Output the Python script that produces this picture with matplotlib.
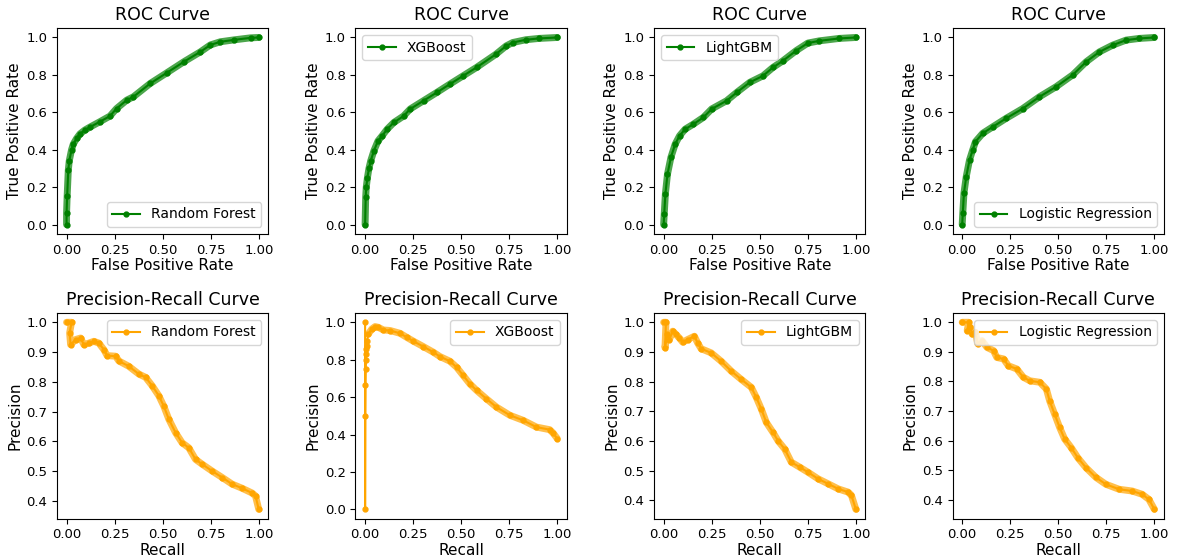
import numpy as np
import matplotlib
matplotlib.use('Agg')
import matplotlib.pyplot as plt

######################################################################
## Data
######################################################################

models = ['Random Forest', 'XGBoost', 'LightGBM', 'Logistic Regression']

# ROC curves: false positive rate / true positive rate
rf_fpr = [0.0, 0.0, 0.003, 0.009, 0.014, 0.026, 0.035, 0.052, 0.07, 0.095, 0.12, 0.174, 0.226, 0.26,
          0.313, 0.348, 0.435, 0.52, 0.61, 0.696, 0.748, 0.8, 0.87, 0.957, 1.0]
rf_tpr = [0.0, 0.06, 0.15, 0.29, 0.34, 0.40, 0.43, 0.46, 0.485, 0.505, 0.52, 0.55, 0.58, 0.62,
          0.665, 0.683, 0.754, 0.81, 0.87, 0.923, 0.96, 0.977, 0.987, 0.998, 1.0]

xgb_fpr = [0.0, 0.003, 0.006, 0.012, 0.02, 0.029, 0.046, 0.067, 0.089, 0.115, 0.15, 0.2, 0.235,
           0.304, 0.373, 0.44, 0.51, 0.58, 0.68, 0.734, 0.768, 0.837, 0.905, 1.0]
xgb_tpr = [0.0, 0.146, 0.2, 0.25, 0.3, 0.34, 0.395, 0.447, 0.475, 0.51, 0.546, 0.58, 0.618,
           0.662, 0.706, 0.75, 0.795, 0.84, 0.91, 0.955, 0.973, 0.988, 0.995, 1.0]

lgb_fpr = [0.0, 0.003, 0.009, 0.02, 0.038, 0.06, 0.083, 0.112, 0.155, 0.207, 0.25, 0.328, 0.38,
           0.448, 0.517, 0.569, 0.62, 0.69, 0.75, 0.81, 0.914, 1.0]
lgb_tpr = [0.0, 0.057, 0.164, 0.27, 0.36, 0.43, 0.475, 0.51, 0.537, 0.573, 0.618, 0.662, 0.706,
           0.76, 0.795, 0.84, 0.875, 0.93, 0.97, 0.982, 0.995, 1.0]

lr_fpr = [0.0, 0.003, 0.009, 0.021, 0.038, 0.055, 0.069, 0.107, 0.16, 0.229, 0.315, 0.402, 0.489,
          0.575, 0.645, 0.714, 0.783, 0.853, 0.922, 1.0]
lr_tpr = [0.0, 0.06, 0.167, 0.256, 0.345, 0.4, 0.443, 0.488, 0.523, 0.568, 0.62, 0.683, 0.737,
          0.8, 0.87, 0.923, 0.959, 0.986, 0.995, 1.0]

# Precision-recall curves: recall / precision
rf_rec = [0.0, 0.026, 0.016, 0.021, 0.047, 0.073, 0.09, 0.116, 0.142, 0.168, 0.194, 0.211, 0.255,
          0.272, 0.324, 0.376, 0.411, 0.445, 0.48, 0.506, 0.532, 0.567, 0.601, 0.636, 0.671, 0.705,
          0.757, 0.81, 0.861, 0.913, 0.965, 0.983, 1.0]
rf_prec = [1.0, 1.0, 0.964, 0.925, 0.942, 0.947, 0.925, 0.93, 0.936, 0.93, 0.908, 0.888, 0.886,
           0.87, 0.852, 0.826, 0.815, 0.787, 0.753, 0.718, 0.674, 0.629, 0.595, 0.578, 0.539, 0.523,
           0.5, 0.478, 0.456, 0.442, 0.426, 0.416, 0.371]

xgb_rec = [0.0, 0.0, 0.001, 0.002, 0.003, 0.004, 0.005, 0.006, 0.008, 0.01, 0.017, 0.035, 0.052,
           0.069, 0.095, 0.13, 0.182, 0.216, 0.251, 0.303, 0.355, 0.389, 0.441, 0.476, 0.51, 0.545,
           0.58, 0.631, 0.683, 0.753, 0.822, 0.891, 0.96, 0.978, 1.0]
xgb_prec = [1.0, 0.0, 0.5, 0.667, 0.75, 0.8, 0.833, 0.857, 0.875, 0.9, 0.938, 0.964, 0.977,
            0.973, 0.959, 0.956, 0.941, 0.92, 0.899, 0.87, 0.84, 0.817, 0.792, 0.76, 0.716, 0.671,
            0.636, 0.591, 0.547, 0.503, 0.476, 0.44, 0.426, 0.408, 0.378]

lgb_rec = [0.0, 0.012, 0.007, 0.017, 0.03, 0.047, 0.064, 0.082, 0.099, 0.125, 0.16, 0.177, 0.195,
           0.247, 0.299, 0.351, 0.403, 0.456, 0.482, 0.508, 0.534, 0.569, 0.595, 0.63, 0.664, 0.708,
           0.751, 0.803, 0.856, 0.908, 0.96, 0.977, 1.0]
lgb_prec = [1.0, 1.0, 0.914, 0.959, 0.942, 0.97, 0.959, 0.947, 0.933, 0.942, 0.953, 0.93, 0.911,
            0.897, 0.869, 0.836, 0.808, 0.781, 0.747, 0.708, 0.663, 0.629, 0.601, 0.573, 0.529, 0.512,
            0.495, 0.473, 0.456, 0.439, 0.428, 0.417, 0.37]

lr_rec = [0.0, 0.034, 0.026, 0.043, 0.052, 0.069, 0.081, 0.103, 0.129, 0.163, 0.18, 0.215, 0.24,
          0.284, 0.318, 0.352, 0.404, 0.438, 0.455, 0.481, 0.507, 0.533, 0.567, 0.601, 0.644, 0.696,
          0.747, 0.816, 0.885, 0.936, 0.971, 1.0]
lr_prec = [1.0, 1.0, 0.972, 0.983, 0.96, 0.966, 0.927, 0.938, 0.915, 0.904, 0.881, 0.876, 0.853,
           0.842, 0.814, 0.802, 0.797, 0.774, 0.734, 0.689, 0.644, 0.605, 0.576, 0.542, 0.508, 0.475,
           0.452, 0.435, 0.429, 0.418, 0.401, 0.367]

roc_data = [(rf_fpr, rf_tpr), (xgb_fpr, xgb_tpr), (lgb_fpr, lgb_tpr), (lr_fpr, lr_tpr)]
pr_data = [(rf_rec, rf_prec), (xgb_rec, xgb_prec), (lgb_rec, lgb_prec), (lr_rec, lr_prec)]
roc_legend_loc = ['lower right', 'upper left', 'upper left', 'lower right']
# the XGBoost PR curve has only a thin line on its first vertical stretch
pr_band_start = [0, 10, 0, 0]

######################################################################
## Plot
######################################################################

plt.rcParams['font.family'] = ['DejaVu Sans']
fig, axes = plt.subplots(2, 4, figsize=(11.79, 5.58), dpi=100)
fig.subplots_adjust(left=0.0483, right=0.9873, bottom=0.0704, top=0.9496,
                    wspace=0.412, hspace=0.384)


def draw_curve(ax, x, y, color, label, band_start=0):
    # thick underlay mimics the dense band of markers
    ax.plot(x[band_start:], y[band_start:], color=color, linewidth=5, alpha=0.7,
            solid_capstyle='round', solid_joinstyle='round')
    ax.plot(x, y, color=color, marker='.', markersize=7, linewidth=1.5, label=label)


def style_axes(ax, title, xlabel, ylabel):
    ax.set_title(title, fontsize=12.5)
    ax.set_xlabel(xlabel, fontsize=11, labelpad=1)
    ax.set_ylabel(ylabel, fontsize=11, labelpad=3)
    ax.set_xticks([0.0, 0.25, 0.5, 0.75, 1.0])
    ax.set_xticklabels(['0.00', '0.25', '0.50', '0.75', '1.00'])
    ax.tick_params(labelsize=9.5)


for i, name in enumerate(models):
    ax = axes[0, i]
    fpr, tpr = roc_data[i]
    draw_curve(ax, fpr, tpr, 'green', name)
    style_axes(ax, 'ROC Curve', 'False Positive Rate', 'True Positive Rate')
    ax.legend(loc=roc_legend_loc[i], fontsize=10)

    ax = axes[1, i]
    rec, prec = pr_data[i]
    draw_curve(ax, rec, prec, 'orange', name, pr_band_start[i])
    style_axes(ax, 'Precision-Recall Curve', 'Recall', 'Precision')
    ax.legend(loc='upper right', fontsize=10)

fig.savefig('out.png', dpi=100)
plt.close('all')
